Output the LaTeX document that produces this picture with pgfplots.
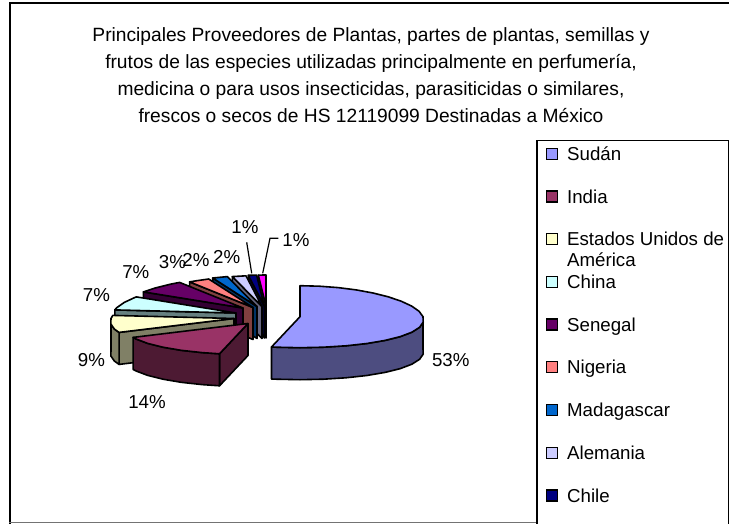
\documentclass[border=0pt]{standalone}
\usepackage{fontspec}
\setmainfont{Liberation Sans}
\usepackage{pgfplots}
\pgfplotsset{compat=1.18}
% Shares (%): Sudan 53, India 14, EUA 9, China 7, Senegal 7, Nigeria 3, Madagascar 2, Alemania 2, Chile 1, (otro) 1
\definecolor{c1}{HTML}{9999FF}\definecolor{s1}{HTML}{4D4D80}
\definecolor{c2}{HTML}{993366}\definecolor{s2}{HTML}{4D1A33}
\definecolor{c3}{HTML}{FFFFCC}\definecolor{s3}{HTML}{808066}
\definecolor{c4}{HTML}{CCFFFF}\definecolor{s4}{HTML}{668080}
\definecolor{c5}{HTML}{660066}\definecolor{s5}{HTML}{330033}
\definecolor{c6}{HTML}{FF8080}\definecolor{s6}{HTML}{804040}
\definecolor{c7}{HTML}{0066CC}\definecolor{s7}{HTML}{003366}
\definecolor{c8}{HTML}{CCCCFF}\definecolor{s8}{HTML}{666680}
\definecolor{c9}{HTML}{000080}\definecolor{s9}{HTML}{000040}
\definecolor{c10}{HTML}{FF00FF}\definecolor{s10}{HTML}{800080}
\pgfplotsset{
  face/.style={draw=black, line width=1.6pt, line join=round, forget plot},
  legsq/.style={legend image code/.code={\path (0pt,0pt); \draw[##1, line width=1.3pt] (4pt,-5.5pt) rectangle (15pt,5.5pt);}},
}
\newcommand{\bigf}{\fontsize{18.7}{22}\selectfont}
\newcommand{\titf}{\fontsize{19.2}{22}\selectfont}
\begin{document}
\begin{tikzpicture}
\begin{axis}[
  width=729pt, height=524pt, scale only axis,
  xmin=0, xmax=729, ymin=0, ymax=524, y dir=reverse,
  hide axis, clip=false,
  legend cell align=left,
  legend style={at={(axis cs:536,140)}, anchor=north west, draw=black, line width=1.5pt, fill=white,
    inner xsep=5pt, inner ysep=6.3pt, row sep=29.3pt, column sep=9pt, cells={anchor=west},
    nodes={inner sep=0pt, text height=13.4pt, text depth=0pt, font=\bigf}},
]
\coordinate (bbA) at (axis cs:0,524);
\coordinate (bbB) at (axis cs:729,0);
% legend
\addlegendimage{legsq, fill=c1, draw=black}\addlegendentry{Sudán}
\addlegendimage{legsq, fill=c2, draw=black}\addlegendentry{India}
\addlegendimage{legsq, fill=c3, draw=black}\addlegendentry{\smash{\begin{tabular}[t]{@{}l@{}}Estados Unidos de\\[-1pt]América\end{tabular}}}
\addlegendimage{legsq, fill=c4, draw=black}\addlegendentry{China}
\addlegendimage{legsq, fill=c5, draw=black}\addlegendentry{Senegal}
\addlegendimage{legsq, fill=c6, draw=black}\addlegendentry{Nigeria}
\addlegendimage{legsq, fill=c7, draw=black}\addlegendentry{Madagascar}
\addlegendimage{legsq, fill=c8, draw=black}\addlegendentry{Alemania}
\addlegendimage{legsq, fill=c9, draw=black}\addlegendentry{Chile}
\addlegendimage{empty legend}\addlegendentry{}

% ---- slice 10 (1%)
\addplot[face, fill=s10] coordinates {(266,306) (258.3,275.1) (258.3,307.1) (266,338)} -- cycle;
\addplot[face, fill=c10] coordinates {(266,306) (258.3,275.1) (266,275.0)} -- cycle;
% ---- Chile
\addplot[face, fill=s9] coordinates {(264.3,306) (248.3,275.3) (248.3,307.3) (264.3,338)} -- cycle;
\addplot[face, fill=c9] coordinates {(264.3,306) (248.3,275.3) (256.6,275.1)} -- cycle;
% ---- Alemania
\addplot[face, fill=s8] coordinates {(262,306.5) (232.3,276.6) (232.3,308.6) (262,338.5)} -- cycle;
\addplot[face, fill=c8] coordinates {(262,306.5) (232.3,276.6) (242.7,276.0) (246.0,275.8)} -- cycle;
% ---- Madagascar
\addplot[face, fill=s7] coordinates {(257,306.5) (212.7,278.0) (212.7,310.0) (257,338.5)} -- cycle;
\addplot[face, fill=c7] coordinates {(257,306.5) (212.7,278.0) (218.9,277.4) (227.3,276.6)} -- cycle;
% ---- Nigeria
\addplot[face, fill=s6] coordinates {(253,307.5) (189.6,281.9) (189.6,313.9) (253,339.5)} -- cycle;
\addplot[face, fill=c6] coordinates {(253,307.5) (189.6,281.9) (196.8,280.7) (208.7,279.0)} -- cycle;
% ---- Senegal
\addplot[face, fill=s5] coordinates {(243,308) (143.4,291.9) (143.4,323.9) (243,340)} -- cycle;
\addplot[face, fill=c5] coordinates {(243,308) (143.4,291.9) (154.8,288.1) (170.0,284.3) (179.6,282.4)} -- cycle;
% ---- China
\addplot[face, fill=s4] coordinates {(236,313) (114.8,309.9) (114.8,341.9) (236,345)} -- cycle;
\addplot[face, fill=c4] coordinates {(236,313) (114.8,309.9) (116.9,307.6) (124.3,302.4) (134.8,297.5) (136.4,296.9)} -- cycle;
% ---- Estados Unidos
\addplot[face, fill=s3] coordinates {(234,318.5) (119.1,332.4) (119.1,364.4) (234,350.5)} -- cycle;
\addplot[face, fill=s3] coordinates {(119.1,332.4) (114.4,329.1) (110.8,323.9) (111.0,318.5) (111.0,350.5) (110.8,355.9) (114.4,361.1) (119.1,364.4)} -- cycle;
\addplot[face, fill=c3] coordinates {(234,318.5) (119.1,332.4) (114.4,329.1) (110.8,323.9) (111.0,318.5) (112.8,315.4)} -- cycle;
% ---- India
\addplot[face, fill=s2] coordinates {(248,323.5) (219.5,353.8) (219.5,385.8) (248,355.5)} -- cycle;
\addplot[face, fill=s2] coordinates {(219.5,353.8) (202.0,352.6) (181.1,350.3) (162.9,347.2) (147.7,343.4) (136.1,339.0) (133.1,337.4)
  (133.1,369.4) (136.1,371.0) (147.7,375.4) (162.9,379.2) (181.1,382.3) (202.0,384.6) (219.5,385.8)} -- cycle;
\addplot[face, fill=c2] coordinates {(248,323.5) (219.5,353.8) (202.0,352.6) (181.1,350.3) (162.9,347.2) (147.7,343.4) (136.1,339.0) (133.1,337.4)} -- cycle;
% ---- Sudan
\addplot[face, fill=s1] coordinates {(423.0,316.7) (423.2,322.1) (419.6,327.3) (411.9,332.2) (400.3,336.6) (385.1,340.4) (366.9,343.5) (346.0,345.8) (323.5,347.2) (300,347.7) (276.5,347.2) (271.5,347.0)
  (271.5,379.0) (276.5,379.2) (300,379.7) (323.5,379.2) (346.0,377.8) (366.9,375.5) (385.1,372.4) (400.3,368.6) (411.9,364.2) (419.6,359.3) (423.2,354.1) (423.0,348.7)} -- cycle;
\addplot[face, fill=c1] coordinates {(300,316.7) (300,285.7) (319.3,286.2) (338.1,287.6) (356.2,289.9) (373.0,293.0) (388.2,296.8) (401.2,301.2) (411.7,306.1) (419.1,311.3) (423.0,316.7) (423.2,322.1) (419.6,327.3) (411.9,332.2) (400.3,336.6) (385.1,340.4) (366.9,343.5) (346.0,345.8) (323.5,347.2) (300,347.7) (276.5,347.2) (271.5,347.0)} -- cycle;

% leader lines
\addplot[black, line width=1.2pt, forget plot] coordinates {(246.7,242.3) (251.7,273.3)};
\addplot[black, line width=1.2pt, forget plot] coordinates {(278.3,238.3) (270,238.3) (262.7,273.3)};

% data labels
\node[font=\bigf, anchor=base] at (axis cs:450.8,366) {53\%};
\node[font=\bigf, anchor=base] at (axis cs:147,408.5) {14\%};
\node[font=\bigf, anchor=base] at (axis cs:91.5,366) {9\%};
\node[font=\bigf, anchor=base] at (axis cs:96.5,301.7) {7\%};
\node[font=\bigf, anchor=base] at (axis cs:135.8,278.3) {7\%};
\node[font=\bigf, anchor=base] at (axis cs:172.5,268.3) {3\%};
\node[font=\bigf, anchor=base] at (axis cs:196,266.7) {2\%};
\node[font=\bigf, anchor=base] at (axis cs:226.7,263.3) {2\%};
\node[font=\bigf, anchor=base] at (axis cs:245,233.3) {1\%};
\node[font=\bigf, anchor=base] at (axis cs:296,246.7) {1\%};

% title
\node[font=\titf, anchor=base] at (axis cs:371,41.7) {Principales Proveedores de Plantas, partes de plantas, semillas y};
\node[font=\titf, anchor=base] at (axis cs:371,68.7) {frutos de las especies utilizadas principalmente en perfumería,};
\node[font=\titf, anchor=base] at (axis cs:371,95.7) {medicina o para usos insecticidas, parasiticidas o similares,};
\node[font=\titf, anchor=base] at (axis cs:371,122.7) {frescos o secos de HS 12119099 Destinadas a México};

% chart frame
\draw[black, line width=2pt] (axis cs:10,540) -- (axis cs:10,3.5) -- (axis cs:760,3.5);
\draw[black!55, line width=1pt] (axis cs:9,522.5) -- (axis cs:760,522.5);
\end{axis}
\pgfresetboundingbox
\useasboundingbox (bbA) rectangle (bbB);
\end{tikzpicture}
\end{document}
